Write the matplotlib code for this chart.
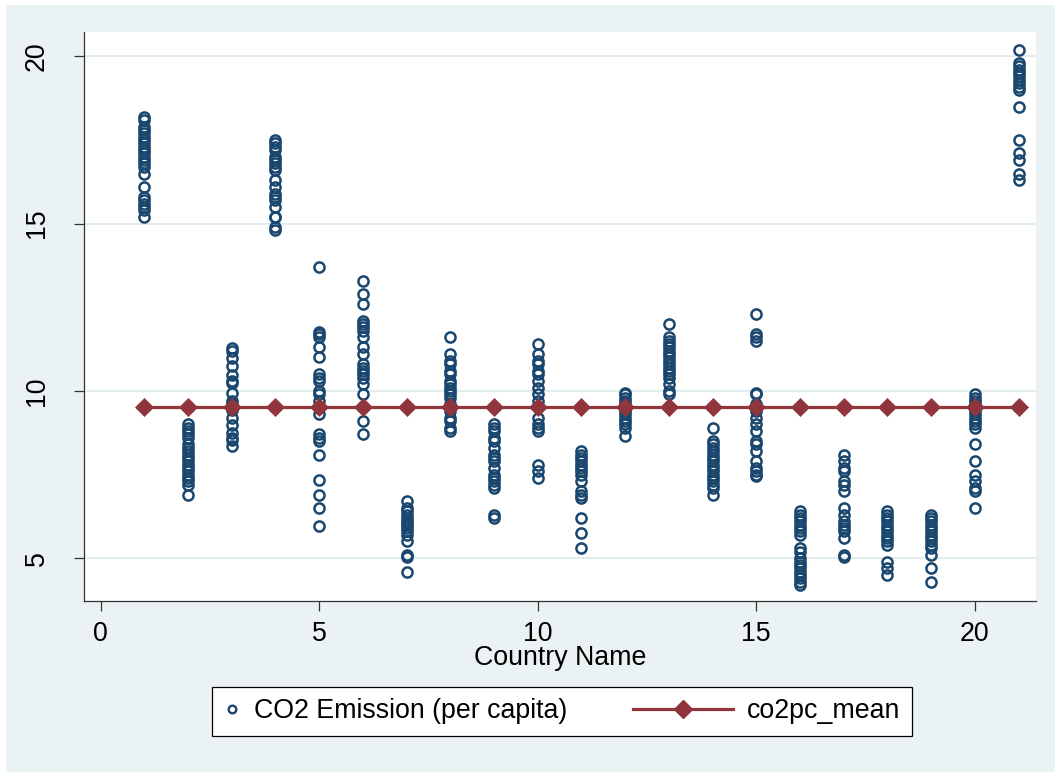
import matplotlib
matplotlib.use("Agg")
import matplotlib.pyplot as plt
from matplotlib.lines import Line2D
from matplotlib.legend_handler import HandlerBase
from matplotlib.patches import Rectangle

plt.rcParams['font.family'] = ['Liberation Sans', 'DejaVu Sans']

# ---------------- data ----------------
c01 = [18.2, 18.1, 17.9, 17.8, 17.7, 17.6, 17.5, 17.4, 17.3, 17.2, 17.1, 17.0, 16.9,
       16.8, 16.7, 16.5, 16.1, 15.8, 15.7, 15.6, 15.5, 15.4, 15.2]
c02 = [9.0, 8.9, 8.8, 8.7, 8.6, 8.4, 8.3, 8.2, 8.1, 8.0, 7.9, 7.8, 7.7, 7.6, 7.5,
       7.4, 7.3, 7.2, 6.9]
c03 = [11.29, 11.2, 10.99, 10.74, 10.49, 10.3, 10.24, 9.94, 9.69, 9.6, 9.44, 9.19,
       8.99, 8.74, 8.6, 8.54, 8.34]
c04 = [17.5, 17.4, 17.3, 17.2, 17.0, 16.9, 16.8, 16.7, 16.6, 16.3, 16.1, 15.9, 15.8,
       15.7, 15.5, 15.2, 15.2, 14.9, 14.8]
c05 = [13.7, 11.75, 11.7, 11.6, 11.3, 11.0, 10.5, 10.4, 10.3, 10.0, 9.9, 9.7, 9.5,
       9.3, 8.7, 8.6, 8.5, 8.1, 7.35, 6.9, 6.5, 5.95]
c06 = [13.3, 12.9, 12.6, 12.1, 12.0, 11.9, 11.8, 11.6, 11.3, 11.1, 10.8, 10.7, 10.6,
       10.5, 10.4, 10.2, 9.9, 9.1, 8.7]
c07 = [6.7, 6.5, 6.4, 6.3, 6.2, 6.1, 6.05, 6.0, 5.9, 5.8, 5.7, 5.5, 5.1, 5.05, 4.6]
c08 = [11.6, 11.1, 10.9, 10.8, 10.6, 10.5, 10.3, 10.2, 10.1, 10.0, 9.9, 9.8, 9.6,
       9.4, 9.2, 9.1, 8.9, 8.8]
c09 = [9.0, 8.9, 8.8, 8.6, 8.5, 8.3, 8.1, 8.0, 7.9, 7.7, 7.5, 7.4, 7.3, 7.2, 7.1,
       6.3, 6.2]
c10 = [11.4, 11.1, 10.9, 10.8, 10.6, 10.5, 10.3, 10.1, 9.9, 9.7, 9.2, 9.0, 8.9, 8.8,
       7.8, 7.6, 7.4]
c11 = [8.2, 8.1, 8.0, 7.9, 7.8, 7.7, 7.6, 7.5, 7.3, 7.0, 6.9, 6.8, 6.2, 5.75, 5.3]
c12 = [9.95, 9.9, 9.8, 9.7, 9.6, 9.5, 9.45, 9.4, 9.3, 9.2, 9.1, 9.0, 8.9, 8.65]
c13 = [12.0, 11.6, 11.5, 11.4, 11.3, 11.2, 11.1, 11.0, 10.9, 10.8, 10.7, 10.6, 10.5,
       10.4, 10.2, 10.0, 9.9]
c14 = [8.9, 8.5, 8.4, 8.3, 8.2, 8.1, 8.0, 7.9, 7.8, 7.7, 7.6, 7.5, 7.4, 7.3, 7.2,
       7.1, 6.9]
c15 = [12.3, 11.7, 11.6, 11.5, 9.95, 9.9, 9.6, 9.5, 9.4, 9.2, 9.0, 8.8, 8.5, 8.4,
       8.2, 7.9, 7.7, 7.6, 7.5, 7.45]
c16 = [6.4, 6.3, 6.2, 6.1, 6.0, 5.9, 5.8, 5.7, 5.3, 5.2, 5.0, 4.9, 4.8, 4.7, 4.6,
       4.5, 4.4, 4.3, 4.2]
c17 = [8.1, 7.9, 7.7, 7.6, 7.3, 7.2, 7.0, 6.5, 6.3, 6.1, 6.0, 5.9, 5.8, 5.6, 5.1, 5.05]
c18 = [6.4, 6.3, 6.2, 6.1, 6.0, 5.9, 5.8, 5.7, 5.6, 5.5, 5.4, 4.9, 4.7, 4.5]
c19 = [6.3, 6.2, 6.1, 6.0, 5.9, 5.8, 5.7, 5.6, 5.5, 5.4, 5.3, 5.1, 4.7, 4.3]
c20 = [9.9, 9.8, 9.7, 9.6, 9.5, 9.4, 9.3, 9.2, 9.1, 9.0, 8.9, 8.4, 7.9, 7.5, 7.3,
       7.1, 7.0, 6.5]
c21 = [20.2, 19.8, 19.7, 19.6, 19.5, 19.4, 19.3, 19.2, 19.1, 19.0, 18.5, 17.5, 17.1,
       16.9, 16.5, 16.3]

countries = list(range(1, 22))
co2_by_country = [c01, c02, c03, c04, c05, c06, c07, c08, c09, c10, c11, c12, c13,
                  c14, c15, c16, c17, c18, c19, c20, c21]
co2pc_mean = [9.53] * 21

xticks = [0, 5, 10, 15, 20]
yticks = [5, 10, 15, 20]

series_labels = ["CO2 Emission (per capita)", "co2pc_mean"]
xlabel_text = "Country Name"

# ---------------- styling ----------------
NAVY = "#1A476F"
MAROON = "#90353B"
BG = "#EAF2F3"
FS = 19.3

fig = plt.figure(figsize=(10.55, 7.72), dpi=100, facecolor="white")
fig.patches.append(Rectangle((6 / 1055, 0), 1, 1 - 5 / 772, transform=fig.transFigure,
                             facecolor=BG, edgecolor="none", zorder=-10))

ax = fig.add_axes([84 / 1055, 1 - 600.7 / 772, (1036 - 84) / 1055, (600.7 - 32) / 772])
ax.set_facecolor("white")

xs, ys = [], []
for c, vals in zip(countries, co2_by_country):
    xs += [c] * len(vals)
    ys += vals

ax.plot(xs, ys, linestyle="none", marker="o", markersize=7.3, markerfacecolor="none",
        markeredgecolor=NAVY, markeredgewidth=1.8, zorder=3)
ax.plot(countries, co2pc_mean, color=MAROON, lw=2.3, marker="D", markersize=9.2,
        markerfacecolor=MAROON, markeredgecolor=MAROON, markeredgewidth=0.5, zorder=4)

ax.set_xlim(-0.38, 21.4)
ax.set_ylim(3.73, 20.73)
ax.set_xticks(xticks)
ax.set_yticks(yticks)
ax.set_yticklabels([str(v) for v in yticks], rotation=90, va="center")
ax.tick_params(axis="both", labelsize=FS, length=7.5, width=0.9, color="#333333")
ax.tick_params(axis="x", pad=7)
ax.tick_params(axis="y", pad=17)
ax.yaxis.grid(True, color="#E3EDEF", lw=1.5, zorder=0)
ax.set_axisbelow(True)
for s in ["top", "right"]:
    ax.spines[s].set_visible(False)
for s in ["left", "bottom"]:
    ax.spines[s].set_color("#333333")
    ax.spines[s].set_linewidth(0.9)
ax.set_xlabel(xlabel_text, fontsize=FS, labelpad=-1)


class CircleHandler(HandlerBase):
    def create_artists(self, legend, orig_handle, xdescent, ydescent, width, height,
                       fontsize, trans):
        y = height / 2 - ydescent
        m = Line2D([width / 2 - xdescent], [y], linestyle="none", marker="o",
                   markersize=5.5, markerfacecolor="none", markeredgecolor=NAVY,
                   markeredgewidth=1.7, transform=trans)
        return [m]


class LongLineHandler(HandlerBase):
    def create_artists(self, legend, orig_handle, xdescent, ydescent, width, height,
                       fontsize, trans):
        y = height / 2 - ydescent
        x1 = width - xdescent
        x0 = x1 - 72
        ln = Line2D([x0, x1], [y, y], color=MAROON, lw=2.3, transform=trans)
        mk = Line2D([(x0 + x1) / 2], [y], linestyle="none", marker="D", markersize=9.2,
                    markerfacecolor=MAROON, markeredgecolor=MAROON, transform=trans)
        return [ln, mk]


h1 = Line2D([], [], linestyle="none", marker="o")
h2 = Line2D([], [], color=MAROON)
leg = fig.legend([h1, h2], series_labels, loc="center",
                 bbox_to_anchor=(562 / 1055, 1 - 711.5 / 772),
                 bbox_transform=fig.transFigure, ncol=2, fontsize=FS, frameon=True,
                 fancybox=False, edgecolor="black", facecolor="white", framealpha=1,
                 handlelength=0.61, handletextpad=0.51, columnspacing=5.6,
                 borderpad=0.44,
                 handler_map={h1: CircleHandler(), h2: LongLineHandler()})
leg.get_frame().set_linewidth(0.9)

fig.savefig("out.png", dpi=100, facecolor=fig.get_facecolor())
